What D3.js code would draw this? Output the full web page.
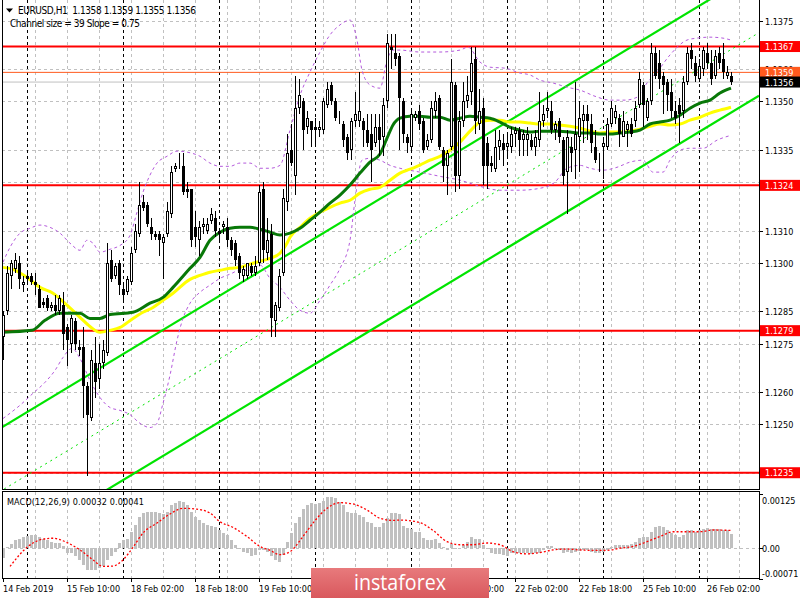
<!DOCTYPE html>
<html><head><meta charset="utf-8">
<script src="https://cdn.jsdelivr.net/npm/d3@7"></script>
<style>
body{margin:0;background:#fff}
text{font-family:"DejaVu Sans Condensed","DejaVu Sans",sans-serif;font-size:9px}
</style>
</head><body><svg id="c" width="800" height="600"></svg>
<script>
// ---------- DATA ----------
const symbolTitle = "EURUSD,H1\u00a0\u00a01.1358 1.1359 1.1355 1.1356";
const channelTitle = "Channel size = 39 Slope = 0.75";
const macdTitle = "MACD(12,26,9) 0.00032 0.00041";
const logoText = "instaforex";
const opens = [1.1277,1.1285,1.1296,1.1298,1.1300,1.1293,1.1296,1.1296,1.1294,1.1292,1.1288,1.1289,1.1286,1.1287,1.1285,1.1287,1.1280,1.1275,1.1282,1.1274,
1.1274,1.1262,1.1252,1.1269,1.1264,1.1269,1.1272,1.1301,1.1296,1.1300,1.1292,1.1291,1.1294,1.1304,1.1309,1.1319,1.1318,1.1311,1.1309,1.1309,
1.1306,1.1309,1.1315,1.1329,1.1331,1.1330,1.1323,1.1323,1.1311,1.1307,1.1311,1.1310,1.1313,1.1314,1.1310,1.1311,1.1311,1.1307,1.1306,1.1302,
1.1296,1.1296,1.1299,1.1297,1.1300,1.1323,1.1303,1.1309,1.1282,1.1286,1.1297,1.1319,1.1335,1.1327,1.1348,1.1350,1.1342,1.1344,1.1342,1.1341,
1.1341,1.1349,1.1355,1.1350,1.1344,1.1343,1.1339,1.1335,1.1344,1.1344,1.1344,1.1341,1.1340,1.1337,1.1342,1.1339,1.1350,1.1367,1.1365,1.1364,
1.1350,1.1339,1.1336,1.1345,1.1347,1.1344,1.1336,1.1338,1.1347,1.1351,1.1335,1.1330,1.1336,1.1355,1.1327,1.1344,1.1350,1.1353,1.1363,1.1343,
1.1348,1.1337,1.1331,1.1329,1.1336,1.1337,1.1336,1.1336,1.1340,1.1341,1.1338,1.1338,1.1338,1.1336,1.1338,1.1344,1.1347,1.1347,1.1341,1.1344,
1.1338,1.1328,1.1336,1.1335,1.1339,1.1344,1.1346,1.1343,1.1336,1.1333,1.1336,1.1336,1.1343,1.1345,1.1345,1.1339,1.1341,1.1343,1.1344,1.1349,
1.1355,1.1345,1.1350,1.1365,1.1362,1.1358,1.1356,1.1353,1.1347,1.1349,1.1347,1.1356,1.1366,1.1362,1.1357,1.1360,1.1365,1.1362,1.1358,1.1365,
1.1363,1.1358,1.1358];
const highs = [1.1285,1.1299,1.1301,1.1303,1.1302,1.1296,1.1297,1.1297,1.1297,1.1293,1.1289,1.1290,1.1288,1.1290,1.1290,1.1291,1.1281,1.1284,1.1283,1.1276,
1.1280,1.1263,1.1273,1.1277,1.1275,1.1276,1.1306,1.1304,1.1300,1.1301,1.1294,1.1296,1.1305,1.1312,1.1325,1.1321,1.1319,1.1314,1.1310,1.1310,
1.1309,1.1319,1.1330,1.1331,1.1334,1.1334,1.1325,1.1323,1.1316,1.1313,1.1314,1.1314,1.1317,1.1316,1.1310,1.1313,1.1314,1.1308,1.1307,1.1303,
1.1299,1.1300,1.1300,1.1302,1.1324,1.1325,1.1314,1.1312,1.1288,1.1298,1.1323,1.1340,1.1343,1.1358,1.1357,1.1351,1.1347,1.1344,1.1345,1.1344,
1.1351,1.1356,1.1356,1.1351,1.1347,1.1344,1.1340,1.1345,1.1353,1.1359,1.1345,1.1346,1.1346,1.1346,1.1346,1.1351,1.1371,1.1371,1.1371,1.1365,
1.1351,1.1340,1.1347,1.1347,1.1349,1.1345,1.1340,1.1350,1.1353,1.1352,1.1336,1.1335,1.1363,1.1356,1.1347,1.1356,1.1358,1.1367,1.1367,1.1354,
1.1351,1.1339,1.1333,1.1341,1.1341,1.1340,1.1340,1.1342,1.1342,1.1342,1.1341,1.1342,1.1340,1.1341,1.1353,1.1349,1.1353,1.1350,1.1344,1.1345,
1.1339,1.1341,1.1339,1.1356,1.1350,1.1349,1.1349,1.1346,1.1341,1.1334,1.1339,1.1345,1.1350,1.1349,1.1346,1.1347,1.1344,1.1345,1.1350,1.1359,
1.1356,1.1351,1.1368,1.1367,1.1366,1.1359,1.1357,1.1357,1.1350,1.1351,1.1358,1.1367,1.1368,1.1364,1.1363,1.1367,1.1368,1.1366,1.1366,1.1367,
1.1368,1.1361,1.1359];
const lows = [1.1270,1.1284,1.1292,1.1297,1.1292,1.1291,1.1293,1.1293,1.1290,1.1286,1.1286,1.1285,1.1285,1.1284,1.1284,1.1273,1.1268,1.1272,1.1273,1.1271,
1.1252,1.1234,1.1251,1.1258,1.1261,1.1267,1.1271,1.1294,1.1295,1.1290,1.1288,1.1290,1.1293,1.1303,1.1308,1.1316,1.1311,1.1307,1.1307,1.1302,
1.1295,1.1308,1.1314,1.1328,1.1329,1.1321,1.1320,1.1305,1.1305,1.1302,1.1309,1.1309,1.1312,1.1308,1.1307,1.1309,1.1305,1.1302,1.1299,1.1295,
1.1294,1.1295,1.1296,1.1296,1.1299,1.1300,1.1301,1.1277,1.1277,1.1285,1.1296,1.1316,1.1330,1.1321,1.1346,1.1335,1.1340,1.1336,1.1336,1.1339,
1.1340,1.1348,1.1349,1.1344,1.1343,1.1336,1.1332,1.1332,1.1342,1.1342,1.1336,1.1336,1.1325,1.1336,1.1333,1.1333,1.1348,1.1360,1.1361,1.1335,
1.1337,1.1334,1.1335,1.1344,1.1341,1.1334,1.1335,1.1337,1.1345,1.1335,1.1325,1.1321,1.1335,1.1322,1.1323,1.1342,1.1348,1.1349,1.1340,1.1341,
1.1324,1.1323,1.1328,1.1328,1.1332,1.1330,1.1333,1.1334,1.1336,1.1333,1.1333,1.1333,1.1335,1.1333,1.1336,1.1342,1.1345,1.1340,1.1338,1.1337,
1.1324,1.1315,1.1328,1.1326,1.1328,1.1337,1.1338,1.1334,1.1331,1.1328,1.1326,1.1335,1.1342,1.1343,1.1336,1.1339,1.1336,1.1339,1.1342,1.1348,
1.1342,1.1344,1.1349,1.1357,1.1354,1.1346,1.1347,1.1345,1.1343,1.1337,1.1345,1.1355,1.1360,1.1356,1.1356,1.1358,1.1360,1.1355,1.1357,1.1360,
1.1357,1.1357,1.1355];
const closes = [1.1284,1.1297,1.1300,1.1301,1.1295,1.1294,1.1295,1.1294,1.1293,1.1286,1.1287,1.1286,1.1287,1.1285,1.1289,1.1278,1.1276,1.1283,1.1275,1.1273,
1.1262,1.1253,1.1270,1.1263,1.1269,1.1273,1.1300,1.1295,1.1299,1.1293,1.1290,1.1295,1.1303,1.1310,1.1318,1.1317,1.1312,1.1309,1.1308,1.1307,
1.1308,1.1316,1.1328,1.1330,1.1331,1.1322,1.1322,1.1307,1.1308,1.1311,1.1312,1.1312,1.1315,1.1310,1.1309,1.1312,1.1307,1.1304,1.1301,1.1297,
1.1298,1.1300,1.1297,1.1299,1.1322,1.1304,1.1307,1.1283,1.1287,1.1296,1.1320,1.1334,1.1331,1.1348,1.1352,1.1341,1.1345,1.1341,1.1341,1.1342,
1.1350,1.1354,1.1350,1.1345,1.1344,1.1338,1.1334,1.1344,1.1346,1.1347,1.1341,1.1337,1.1335,1.1342,1.1338,1.1349,1.1368,1.1366,1.1363,1.1351,
1.1340,1.1337,1.1346,1.1346,1.1343,1.1335,1.1338,1.1348,1.1350,1.1336,1.1330,1.1334,1.1356,1.1327,1.1344,1.1350,1.1352,1.1362,1.1344,1.1347,
1.1330,1.1330,1.1330,1.1336,1.1338,1.1335,1.1337,1.1340,1.1341,1.1338,1.1340,1.1340,1.1336,1.1339,1.1344,1.1346,1.1348,1.1341,1.1343,1.1339,
1.1327,1.1339,1.1334,1.1340,1.1345,1.1346,1.1344,1.1337,1.1332,1.1333,1.1337,1.1343,1.1348,1.1347,1.1340,1.1344,1.1343,1.1340,1.1348,1.1357,
1.1349,1.1350,1.1365,1.1358,1.1357,1.1355,1.1352,1.1347,1.1345,1.1346,1.1356,1.1365,1.1363,1.1358,1.1361,1.1366,1.1362,1.1357,1.1364,1.1362,
1.1359,1.1359,1.1356];
// moving averages, sampled [bar, price]
const maGreen = [[0,1.12785],[7.25,1.12791],[10.5,1.12822],[14.25,1.12844],[19.25,1.12844],[21.75,1.12828],[24.25,1.12828],[26.75,1.1284],[32.5,1.12847],[36.75,1.12875],[40,1.12893],[42.5,1.12924],[46.75,1.12983],[49.25,1.13017],[51.75,1.1307],[54.25,1.13095],[56.75,1.13107],[59.25,1.1311],[61.75,1.1311],[64.25,1.13104],[66.75,1.13095],[69.25,1.13086],[71.75,1.13092],[74.25,1.13107],[76.75,1.13132],[79.25,1.13157],[81.75,1.13185],[84.25,1.1321],[86.75,1.13241],[89.25,1.13278],[91.75,1.13312],[94.25,1.13337],[96,1.13386],[97.5,1.13427],[99.25,1.13448],[101.75,1.13454],[104.25,1.13454],[106.75,1.13451],[109.25,1.13451],[111.75,1.13442],[114.25,1.13448],[116.75,1.13454],[119.25,1.13451],[121.75,1.13448],[124.25,1.13436],[126.75,1.1342],[129.25,1.13411],[131.75,1.13405],[134.25,1.13408],[136.75,1.13408],[139.25,1.13408],[141.75,1.13405],[144.25,1.13402],[146.75,1.13402],[149.25,1.13399],[151.75,1.13399],[154.25,1.13402],[156.75,1.13405],[159.25,1.13411],[161.75,1.1343],[164.25,1.13436],[166.75,1.13442],[169.25,1.13457],[171.75,1.13479],[174.25,1.13495],[176.75,1.13504],[179.25,1.13526],[182,1.13541]];
const maYellow = [[0,1.12986],[2.5,1.1298],[6,1.12955],[9.25,1.12924],[12.5,1.12906],[16,1.12869],[19.25,1.12831],[21.75,1.12803],[24.25,1.12785],[26.75,1.12791],[29.25,1.128],[32.5,1.12828],[35,1.12847],[37.5,1.12862],[40,1.12884],[42.5,1.12906],[46.75,1.12949],[49.25,1.12961],[51.75,1.12971],[54.25,1.12977],[56.75,1.12983],[59.25,1.12986],[61.75,1.12996],[64.25,1.13005],[66.75,1.13014],[69.25,1.1303],[71,1.13061],[71.75,1.13079],[74.25,1.1311],[76.75,1.13138],[79.25,1.13157],[81.75,1.13172],[84.25,1.13185],[86.75,1.13194],[89.25,1.13216],[91.75,1.13228],[94.25,1.13234],[96.75,1.13256],[99.25,1.13278],[101.75,1.1329],[104.25,1.13303],[106.75,1.13318],[109.25,1.1333],[111.75,1.13349],[114.25,1.13374],[116.75,1.13408],[119.25,1.13436],[121.75,1.13442],[124.25,1.13442],[126.75,1.13436],[129.25,1.13436],[131.75,1.13433],[134.25,1.1343],[136.75,1.1343],[139.25,1.13427],[141.75,1.13423],[144.25,1.13417],[146.75,1.13408],[149.25,1.13402],[151.75,1.13405],[154.25,1.13405],[156.75,1.13408],[159.25,1.13414],[161.75,1.13423],[164.25,1.1343],[166.75,1.13427],[169.25,1.1343],[171.75,1.13442],[174.25,1.13451],[176.75,1.13464],[179.25,1.13473],[182,1.13482]];
// Bollinger-style bands (purple dashed), sampled [bar, price]
const bandUpper = [[0,1.13002],[1.75,1.13048],[4.25,1.13092],[6.75,1.13107],[9.25,1.13117],[11.75,1.1311],[14.25,1.13092],[16.75,1.13061],[19.25,1.13039],[21,1.1307],[22.5,1.13061],[24.25,1.13033],[26.75,1.13042],[29.25,1.13054],[31.75,1.13085],[33.5,1.13157],[35,1.13219],[36.75,1.13272],[38.5,1.13309],[41,1.1333],[43.5,1.13346],[46,1.13343],[49.25,1.1333],[51.75,1.13309],[54.25,1.13299],[56.75,1.13299],[59.25,1.13309],[61.75,1.13309],[64.25,1.13293],[66.75,1.13293],[69.25,1.13302],[71.75,1.13411],[74.25,1.13519],[76.75,1.13591],[79.25,1.13653],[81.75,1.13706],[84.25,1.13737],[86.75,1.13752],[88.5,1.1369],[89.75,1.13597],[91.75,1.13551],[94.25,1.13541],[96,1.13628],[97.5,1.13659],[99.25,1.13659],[104.25,1.13653],[109.25,1.13653],[114.25,1.13659],[116.25,1.13668],[119.25,1.13622],[121.75,1.13606],[125.5,1.13603],[129.25,1.13588],[131.75,1.13582],[134.25,1.13566],[137.5,1.13557],[141,1.13544],[144.25,1.13535],[148,1.13516],[151.75,1.13504],[155.5,1.13504],[158.5,1.13513],[161,1.13557],[163.5,1.13591],[166.75,1.13644],[171,1.1369],[173.5,1.13696],[176.75,1.13699],[180,1.13696],[182,1.1369]];
const bandLower = [[0,1.12518],[4.25,1.12559],[7.5,1.12596],[10.5,1.1263],[13,1.12667],[15,1.12707],[17.25,1.12735],[19.25,1.12704],[21.75,1.12636],[24.25,1.12583],[26.75,1.12552],[29.25,1.12543],[31.75,1.1253],[34.25,1.12503],[36.75,1.1249],[38.5,1.12503],[40,1.12565],[41.75,1.12652],[43.5,1.1276],[45,1.12828],[46.75,1.12875],[49.25,1.12909],[51.75,1.12931],[54.25,1.12952],[56.75,1.12965],[59.25,1.12977],[61.75,1.12977],[64.25,1.12993],[66.75,1.12952],[69.25,1.12924],[71.75,1.12884],[74.25,1.12853],[76.75,1.12844],[79.25,1.12884],[81.75,1.12931],[84.25,1.12983],[86.75,1.1307],[88,1.13194],[89.75,1.13318],[91.75,1.13324],[94.25,1.13318],[96.75,1.13302],[99.25,1.13293],[104.25,1.13281],[109.25,1.13268],[114.25,1.13256],[119.25,1.13237],[124.25,1.13225],[129.25,1.13225],[134.25,1.13231],[138,1.1325],[141,1.13293],[144.25,1.13302],[146.75,1.13293],[150,1.13287],[153.5,1.13296],[156.75,1.13312],[160,1.13318],[162.5,1.13281],[165,1.13281],[166.75,1.13318],[169.25,1.13349],[171.75,1.13355],[175,1.13355],[178.5,1.1338],[182,1.13395]];
// regression channel: middle line end points [bar, price], half width
const channelMid = [[-1,1.12290],[189,1.13713]];
const channelHalf = 0.00195;
// horizontal levels
const levels = [1.1367, 1.1324, 1.1279, 1.1235];
const askPrice = 1.1359, bidPrice = 1.1356;
const priceTicks = [1.1375,1.1360,1.1350,1.1335,1.1325,1.1310,1.1300,1.1285,1.1275,1.1260,1.1250,1.1235];
const hiddenTickLabels = [1.1325, 1.1235];
// MACD
const macdHist = [-0.00023,0.00003,0.0001,0.00018,0.00021,0.00025,0.00028,0.00031,0.00031,0.00025,0.00021,0.00019,0.00015,0.00012,0.00012,0.00004,-0.00012,-0.00012,-0.00019,-0.00027,
-0.00038,-0.0005,-0.0005,-0.0005,-0.00046,-0.00042,-0.00027,-0.00019,-0.00008,0.00012,0.00019,0.00021,0.00038,0.00054,0.00073,0.00082,0.00084,0.00084,0.00084,0.00082,
0.00079,0.00084,0.001,0.00105,0.0011,0.00107,0.001,0.00084,0.00073,0.00064,0.00058,0.00054,0.00051,0.00048,0.00042,0.00036,0.00031,0.00018,0.00008,0.00001,
-0.00008,-0.00012,-0.00018,-0.00015,-0.00004,-0.00004,-0.00008,-0.00019,-0.00027,-0.00031,-0.00015,0.00015,0.00035,0.00058,0.00073,0.0009,0.001,0.00104,0.00102,0.00105,
0.0011,0.00117,0.00119,0.00115,0.00107,0.001,0.00084,0.00082,0.00081,0.00077,0.00071,0.00061,0.00058,0.00048,0.0005,0.00058,0.00069,0.00081,0.00082,0.00079,
0.00051,0.00046,0.00044,0.00038,0.00038,0.00023,0.00018,0.00019,0.00021,0.00013,0.00002,-0.00004,0.0001,-0.00002,-0.00002,0.00008,0.00015,0.00025,0.00021,0.00021,
0.00008,0,-0.00012,-0.00013,-0.00013,-0.00015,-0.00018,-0.00012,-0.00012,-0.00012,-0.00012,-0.00012,-0.00013,-0.00012,-0.0001,-0.00004,0.00005,0.00004,0,-0.00004,
-0.0001,-0.00008,-0.00012,-0.00008,-0.00006,-0.00004,-0.00005,-0.00008,-0.0001,-0.00012,-0.00008,-0.00004,0.00002,0.00008,0.00008,0.00008,0.00008,0.0001,0.00015,0.00023,
0.00025,0.00027,0.00038,0.0005,0.00051,0.00048,0.00042,0.00036,0.00031,0.00027,0.00031,0.00041,0.00042,0.00038,0.00041,0.00044,0.00046,0.00044,0.00044,0.00044,
0.00042,0.00041,0.00032];
const macdSignal = [[1.75,-0.00042],[6,0.00002],[7.5,0.00012],[10,0.00021],[12.5,0.00023],[16,0.00013],[19.25,-0.00004],[22.5,-0.00027],[25,-0.00042],[27.5,-0.00041],[30,-0.00027],[32.5,0.00002],[35,0.00035],[38.5,0.00058],[41.75,0.00079],[45,0.00092],[48.5,0.0009],[51.75,0.00081],[54.25,0.00061],[57.5,0.00048],[61,0.00027],[64.25,0.00004],[66.75,-0.00005],[69.25,-0.00015],[71.75,-0.00008],[75,0.00027],[77.5,0.00058],[81,0.00092],[84.25,0.00105],[87.5,0.00102],[91,0.00088],[94.25,0.00069],[97.5,0.00064],[99.25,0.00065],[104.25,0.00059],[107.5,0.00041],[111,0.00015],[114.25,0.00008],[117.5,0.00008],[121,0.00012],[124.25,0.00008],[127.5,-0.00008],[131,-0.00013],[134.25,-0.0001],[137.5,-0.00004],[141,-0.00002],[144.25,-0.00004],[147.5,-0.00005],[151,-0.00005],[154.25,0],[157.5,0.00004],[161,0.00015],[164.25,0.00027],[167.5,0.00038],[171,0.00038],[174.25,0.00038],[177.5,0.00042],[182,0.00041]];
const macdTicks = [0.00125, 0.00, -0.00071];
// time axis (labels fully covered by the logo in the reference are not drawn)
const timeLabels = [[0,"14 Feb 2019"],[16,"15 Feb 10:00"],[32,"18 Feb 02:00"],[48,"18 Feb 18:00"],[64,"19 Feb 10:00"],[112,"21 Feb 10:00"],[128,"22 Feb 02:00"],[144,"22 Feb 18:00"],[160,"25 Feb 10:00"],[176,"26 Feb 02:00"]];
const timeTickBars = [0,16,32,48,64,80,96,112,128,144,160,176];
const daySeparators = [6,30,54,78,102,126,150,174];
const gridBars = d3.range(8, 189, 8);

// ---------- LAYOUT ----------
const svg = d3.select("#c");
const L = 2, R = 759, mainTop = 0, mainBot = 489, macdTop = 491, macdBot = 578;
const x = d3.scaleLinear().domain([0, 182]).range([3, 731]);
const y = d3.scaleLinear().domain([1.1375, 1.1250]).range([20.7, 424.3]);
const ym = d3.scaleLinear().domain([0.00125, -0.00071]).range([494, 579]);
const px = v => Math.round(x(v)) + 0.5;

svg.append("rect").attr("width",800).attr("height",600).attr("fill","#fff");
const defs = svg.append("defs");
defs.append("clipPath").attr("id","cm").append("rect").attr("x",L).attr("y",mainTop).attr("width",R-L).attr("height",mainBot-mainTop);
defs.append("clipPath").attr("id","cd").append("rect").attr("x",L).attr("y",macdTop).attr("width",R-L).attr("height",macdBot-macdTop);

const gm = svg.append("g").attr("clip-path","url(#cm)");
const gd = svg.append("g").attr("clip-path","url(#cd)");

// grid
priceTicks.forEach(p=>{
  gm.append("line").attr("x1",L).attr("x2",R).attr("y1",Math.round(y(p))+0.5).attr("y2",Math.round(y(p))+0.5)
    .attr("stroke","#c0c0c0").attr("stroke-dasharray","3,3");
});
gridBars.forEach(b=>{
  [gm,gd].forEach(g=>g.append("line").attr("x1",px(b)).attr("x2",px(b)).attr("y1",0).attr("y2",600)
    .attr("stroke","#c0c0c0").attr("stroke-dasharray","3,3"));
});
gd.append("line").attr("x1",L).attr("x2",R).attr("y1",Math.round(ym(0))+0.5).attr("y2",Math.round(ym(0))+0.5)
  .attr("stroke","#c0c0c0").attr("stroke-dasharray","3,3");
daySeparators.forEach(b=>{
  [gm,gd].forEach(g=>g.append("line").attr("x1",px(b)).attr("x2",px(b)).attr("y1",0).attr("y2",600)
    .attr("stroke","#000").attr("stroke-dasharray","3,3"));
});

// horizontal level lines
gm.append("line").attr("x1",L).attr("x2",R).attr("y1",y(bidPrice)).attr("y2",y(bidPrice)).attr("stroke","#c0c0c0");
gm.append("line").attr("x1",L).attr("x2",R).attr("y1",y(askPrice)).attr("y2",y(askPrice)).attr("stroke","#ff5a1e");
levels.forEach(p=>{
  gm.append("line").attr("x1",L).attr("x2",R).attr("y1",y(p)).attr("y2",y(p)).attr("stroke","#ff0000").attr("stroke-width",2);
});

// channel
const chY = (b, off) => {
  const [b0,p0]=channelMid[0],[b1,p1]=channelMid[1];
  return y(p0 + (p1-p0)*(b-b0)/(b1-b0) + off);
};
[-channelHalf, channelHalf].forEach(off=>{
  gm.append("line").attr("x1",x(channelMid[0][0])).attr("x2",x(channelMid[1][0]))
    .attr("y1",chY(channelMid[0][0],off)).attr("y2",chY(channelMid[1][0],off))
    .attr("stroke","#00e400").attr("stroke-width",2.2);
});
gm.append("line").attr("x1",x(channelMid[0][0])).attr("x2",x(channelMid[1][0]))
  .attr("y1",chY(channelMid[0][0],0)).attr("y2",chY(channelMid[1][0],0))
  .attr("stroke","#00e400").attr("stroke-width",1).attr("stroke-dasharray","2,4");

// bands
const ln = d3.line().x(d=>x(d[0])).y(d=>y(d[1])).curve(d3.curveMonotoneX);
[bandUpper, bandLower].forEach(b=>{
  gm.append("path").attr("d",ln(b)).attr("fill","none").attr("stroke","#b45adc").attr("stroke-width",1).attr("stroke-dasharray","3,3");
});

// MAs
gm.append("path").attr("d",ln(maYellow)).attr("fill","none").attr("stroke","#ffff00").attr("stroke-width",3);
gm.append("path").attr("d",ln(maGreen)).attr("fill","none").attr("stroke","#087808").attr("stroke-width",3);

// candles
const cg = gm.append("g").attr("shape-rendering","crispEdges");
d3.range(closes.length).forEach(i=>{
  const xc = Math.round(x(i));
  const o=opens[i],h=highs[i],l=lows[i],c=closes[i];
  cg.append("line").attr("x1",xc+0.5).attr("x2",xc+0.5).attr("y1",y(h)).attr("y2",y(l)).attr("stroke","#000");
  const top = Math.round(y(Math.max(o,c))), bot = Math.round(y(Math.min(o,c)));
  const hh = Math.max(1, bot-top);
  if (c >= o) {
    cg.append("rect").attr("x",xc-0.5).attr("y",top+0.5).attr("width",2).attr("height",Math.max(0,hh-1))
      .attr("fill","#fff").attr("stroke","#000");
  } else {
    cg.append("rect").attr("x",xc-1).attr("y",top).attr("width",3).attr("height",hh).attr("fill","#000");
  }
});

// MACD
const hg = gd.append("g").attr("shape-rendering","crispEdges");
macdHist.forEach((v,i)=>{
  const xc = Math.round(x(i));
  const y0 = ym(0), y1 = ym(v);
  hg.append("rect").attr("x",xc-1).attr("y",Math.min(y0,y1)).attr("width",3).attr("height",Math.max(1,Math.abs(y1-y0)))
    .attr("fill","#c0c0c0");
});
const lm = d3.line().x(d=>x(d[0])).y(d=>ym(d[1])).curve(d3.curveMonotoneX);
gd.append("path").attr("d",lm(macdSignal)).attr("fill","none").attr("stroke","#ff0000").attr("stroke-width",1.3).attr("stroke-dasharray","2,2");

// borders
const bg = svg.append("g").attr("shape-rendering","crispEdges").attr("fill","none").attr("stroke","#000");
bg.append("rect").attr("x",L+0.5).attr("y",-1).attr("width",R-L).attr("height",mainBot+1.5);
bg.append("rect").attr("x",L+0.5).attr("y",macdTop+0.5).attr("width",R-L).attr("height",macdBot-macdTop);

// right axis labels
priceTicks.forEach(p=>{
  const yy = Math.round(y(p))+0.5;
  svg.append("line").attr("x1",R).attr("x2",R+4).attr("y1",yy).attr("y2",yy).attr("stroke","#000");
  if (!hiddenTickLabels.includes(p)) svg.append("text").attr("x",765).attr("y",yy+3.5).text(p.toFixed(4));
});
function tag(p, bg, fg){
  const yy = y(p);
  svg.append("rect").attr("x",760).attr("y",yy-5.5).attr("width",40).attr("height",11).attr("fill",bg);
  svg.append("text").attr("x",765).attr("y",yy+3.5).attr("fill",fg).text(p.toFixed(4));
}
levels.forEach(p=>tag(p,"#ff0000","#fff"));
tag(askPrice,"#ff5a1e","#fff");
tag(bidPrice,"#000","#fff");
macdTicks.forEach((v,i)=>{
  const yy = i===0?500:(i===2?573:Math.round(ym(v))+0.5);
  svg.append("line").attr("x1",R).attr("x2",R+4).attr("y1",Math.round(ym(v))+0.5).attr("y2",Math.round(ym(v))+0.5).attr("stroke","#000");
  svg.append("text").attr("x",762).attr("y",yy+3.5).text(v===0?"0.00":v.toFixed(5));
});

// time axis
timeTickBars.forEach(b=>{
  const xx = Math.round(x(b))+0.5;
  svg.append("line").attr("x1",xx).attr("x2",xx).attr("y1",macdBot).attr("y2",macdBot+4).attr("stroke","#000");
});
timeLabels.forEach(([b,t])=>{
  const xx = Math.round(x(b))+0.5;
  svg.append("text").attr("x",xx-0.5).attr("y",592).text(t);
});

// titles
svg.append("path").attr("d","M6,8.5 L13,8.5 L9.5,12.5 Z").attr("fill","#000");
svg.append("text").attr("x",18).attr("y",14).style("font-size","10px").attr("textLength",178).attr("lengthAdjust","spacing").text(symbolTitle);
svg.append("text").attr("x",10).attr("y",27).style("font-size","10px").attr("textLength",130).attr("lengthAdjust","spacing").text(channelTitle);
svg.append("text").attr("x",7).attr("y",505).attr("textLength",137).attr("lengthAdjust","spacing").text(macdTitle);

// logo
const grad = defs.append("linearGradient").attr("id","lg").attr("x1",0).attr("y1",0).attr("x2",0).attr("y2",1);
grad.append("stop").attr("offset",0).attr("stop-color","#e87a7c");
grad.append("stop").attr("offset",1).attr("stop-color","#d9585d");
svg.append("rect").attr("x",311).attr("y",568).attr("width",178).attr("height",30).attr("fill","url(#lg)");
svg.append("text").attr("x",354).attr("y",590).attr("fill","#fff")
  .attr("textLength",92).attr("lengthAdjust","spacingAndGlyphs")
  .style("font-family","'Open Sans',sans-serif").style("font-size","22px").text(logoText);
</script></body></html>
